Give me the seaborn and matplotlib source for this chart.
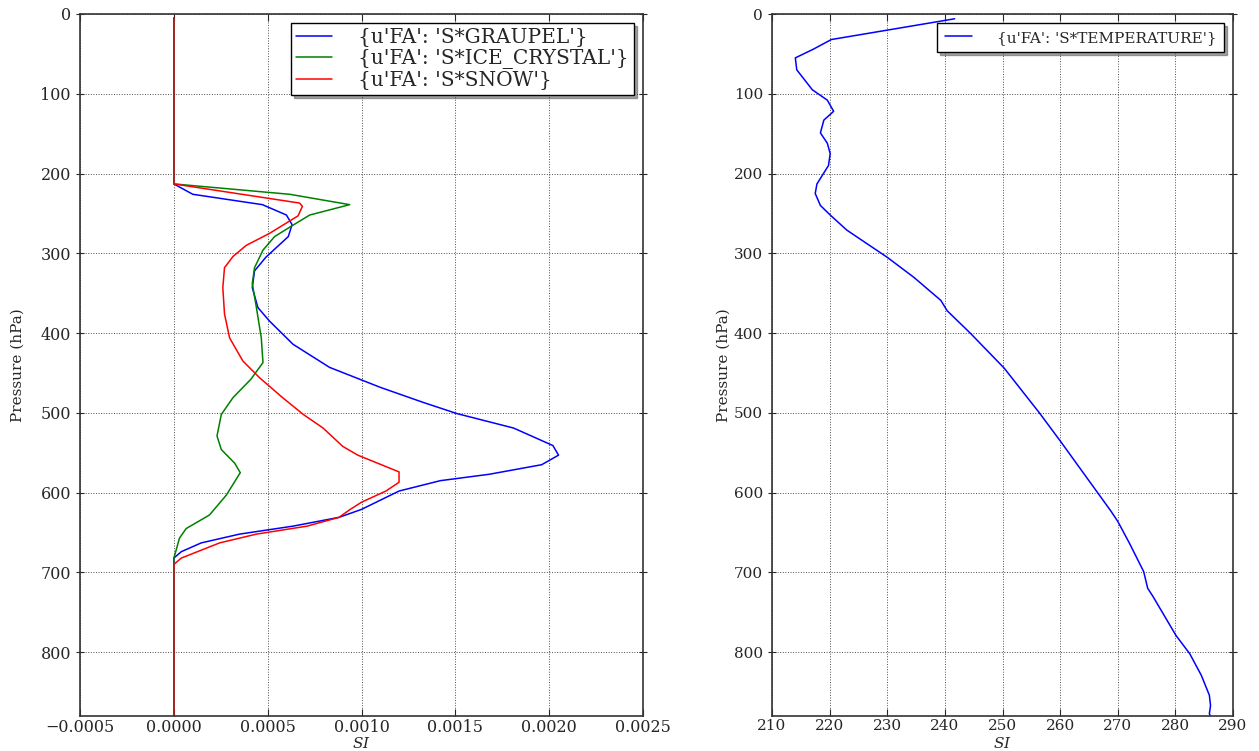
#!/usr/bin/env python
# coding: utf-8

# Vertical profiles: hydrometeors (left) and temperature (right) against pressure

import pandas as pd
import numpy as np
import seaborn as sns
import matplotlib
matplotlib.use("Agg")
import matplotlib.pyplot as plt

# hydrometeor profiles (pressure in hPa, values in SI)
graupel_p = [5, 213, 226, 239, 252, 264, 279, 305, 322, 343, 368, 385, 414, 443, 468, 487,
             501, 519, 541, 553, 565, 577, 585, 598, 621, 631, 642, 652, 663, 674, 682, 880]
graupel_v = [0, 0, 0.000101, 0.000472, 0.0006, 0.00063, 0.00061, 0.00049, 0.00043, 0.000418,
             0.000448, 0.00051, 0.000635, 0.00083, 0.0011, 0.00133, 0.00151, 0.00181, 0.00202,
             0.00205, 0.00196, 0.00168, 0.00142, 0.0012, 0.001, 0.00088, 0.000635, 0.00035,
             0.000146, 0.00004, 0, 0]

ice_p = [5, 213, 226, 239, 252, 266, 279, 296, 318, 338, 368, 406, 437, 458, 481, 502, 529,
         546, 563, 575, 603, 628, 645, 657, 674, 682, 880]
ice_v = [0, 0, 0.000617, 0.000937, 0.000724, 0.000626, 0.000537, 0.000475, 0.00043, 0.000418,
         0.00044, 0.000466, 0.000475, 0.00041, 0.000315, 0.000253, 0.00023, 0.000253, 0.000324,
         0.000354, 0.00028, 0.00019, 0.000066, 0.00003, 0.00001, 0, 0]

snow_p = [5, 213, 237, 241, 253, 275, 290, 304, 318, 343, 376, 406, 435, 456, 481, 502, 519,
          542, 553, 574, 587, 598, 612, 621, 631, 642, 652, 663, 682, 690, 880]
snow_v = [0, 0, 0.00067, 0.000685, 0.000662, 0.00051, 0.000386, 0.000315, 0.00027, 0.000261,
          0.00027, 0.000297, 0.000368, 0.000457, 0.00058, 0.00069, 0.000795, 0.0009, 0.00098,
          0.0012, 0.0012, 0.00113, 0.001, 0.00094, 0.00088, 0.00071, 0.00044, 0.000244,
          0.00004, 0, 0]

# temperature profile (K)
temp_p = [6, 32, 44, 55, 70, 95, 108, 122, 133, 149, 162, 175, 190, 213, 225, 240, 252, 271,
          305, 330, 359, 372, 400, 444, 500, 536, 600, 623, 636, 663, 699, 720, 730, 779, 802,
          829, 854, 867, 877, 885]
temp_v = [241.7, 220.3, 217.2, 214.05, 214.3, 217, 219.6, 220.7, 219, 218.4, 219.6, 220.1,
          219.8, 217.8, 217.5, 218.4, 220.1, 223, 230, 234.6, 239.3, 240.4, 244.4, 250.3, 256.4,
          260.1, 266.5, 268.8, 270, 272, 274.5, 275.2, 276.1, 280.1, 282.5, 284.5, 285.9, 286.1,
          285.9, 286.3]

left_labels = ["{u'FA': 'S*GRAUPEL'}", "{u'FA': 'S*ICE_CRYSTAL'}", "{u'FA': 'S*SNOW'}"]
left_colors = ["#0000ff", "#008000", "#ff0000"]
temp_label = "{u'FA': 'S*TEMPERATURE'}"
left_xticklabels = ["\u22120.0005", "0.0000", "0.0005", "0.0010", "0.0015", "0.0020", "0.0025"]

sns.set_style("white")
plt.rcParams['font.family'] = ['DejaVu Serif']
plt.rcParams['font.size'] = 11
plt.rcParams['mathtext.fontset'] = 'dejavuserif'


def style_axes(ax, xlim, xticks, tsize):
    '''Classic look: inward ticks on all sides, dotted grid, inverted pressure axis'''
    ax.set_ylim(880, 0)
    ax.set_xlim(*xlim)
    ax.set_xticks(xticks)
    ax.set_yticks(np.arange(0, 900, 100))
    ax.grid(True, color="k", linestyle=":", linewidth=0.7, alpha=0.7)
    ax.tick_params(axis="x", direction="in", top=True, bottom=True, length=5, labelsize=tsize,
                   pad=2)
    ax.tick_params(axis="y", direction="inout", left=True, right=True, length=6, labelsize=tsize)
    for s in ax.spines.values():
        s.set_color("#333333")
        s.set_linewidth(1.2)
    ax.set_ylabel("Pressure (hPa)", fontsize=11)
    ax.set_xlabel("$SI$", fontsize=11, va="center")
    ax.xaxis.set_label_coords(0.5, -0.039)


fig = plt.figure(figsize=(12.59, 7.51), dpi=100)
ax1 = fig.add_axes([80 / 1259, 35 / 751, 563 / 1259, 702 / 751])
ax2 = fig.add_axes([772 / 1259, 35 / 751, 461 / 1259, 702 / 751])

series = [(graupel_p, graupel_v), (ice_p, ice_v), (snow_p, snow_v)]
for (p, v), lab, col in zip(series, left_labels, left_colors):
    df = pd.DataFrame({"p": p, "v": v})
    sns.lineplot(data=df, x="v", y="p", sort=False, estimator=None, orient="y",
                 color=col, linewidth=1.1, label=lab, ax=ax1)

tdf = pd.DataFrame({"p": temp_p, "t": temp_v})
sns.lineplot(data=tdf, x="t", y="p", sort=False, estimator=None, orient="y",
             color="#0000ff", linewidth=1.1, label=temp_label, ax=ax2)

style_axes(ax1, (-0.0005, 0.0025), np.arange(-0.0005, 0.0026, 0.0005), 11.5)
ax1.set_xticklabels(left_xticklabels)
style_axes(ax2, (210, 290), np.arange(210, 291, 10), 11)
ax1.yaxis.set_label_coords(-0.098, 0.5)
ax2.yaxis.set_label_coords(-0.09, 0.5)

leg1 = ax1.legend(loc="upper right", shadow=True, fancybox=False, framealpha=1,
                  edgecolor="black", fontsize=14.5, handlelength=1.8, handletextpad=1.3,
                  labelspacing=0.1, borderaxespad=0.45, borderpad=0.25)
leg2 = ax2.legend(loc="upper right", shadow=True, fancybox=False, framealpha=1,
                  edgecolor="black", fontsize=11, handlelength=1.8, handletextpad=1.6,
                  labelspacing=0.3, borderaxespad=0.6, borderpad=0.5)
for leg in (leg1, leg2):
    leg.get_frame().set_linewidth(1.0)

fig.savefig("out.png", dpi=100)
